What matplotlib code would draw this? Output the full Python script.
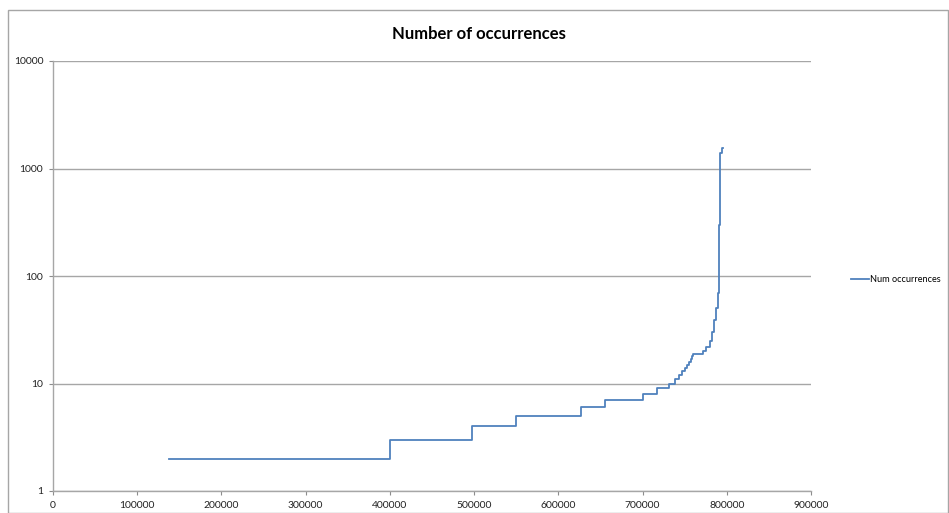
import matplotlib
matplotlib.use("Agg")
import matplotlib.pyplot as plt
from matplotlib.patches import Rectangle
from matplotlib.ticker import FixedLocator, NullLocator

# rank position where each count level starts (sorted occurrence counts)
rank_start = [137700, 400000, 498000, 550000, 627000, 655500, 700000, 717000,
              731000, 738500, 743000, 747000, 750500, 753000, 755500, 757500,
              759000, 760000, 771800, 775000, 779500, 782500, 785000, 787000,
              789000, 790300, 790800, 791500, 792000, 794400, 795000]
counts = [2, 3, 4, 5, 6, 7, 8, 9,
          10, 11, 12, 13, 14, 15, 16, 17,
          18, 19, 20, 22, 25, 30, 39, 50,
          70, 100, 300, 1000, 1400, 1550, 1550]

x_ticks = [0, 100000, 200000, 300000, 400000, 500000, 600000, 700000, 800000, 900000]
y_ticks = [1, 10, 100, 1000, 10000]

plt.rcParams['font.family'] = ['Lato', 'DejaVu Sans']

fig = plt.figure(figsize=(9.49, 5.13), dpi=100)
ax = fig.add_axes([53 / 949, 1 - 491 / 513, (811 - 53) / 949, (491 - 61) / 513])

ax.step(rank_start, counts, where='post', color='#4F81BD', linewidth=1.3,
        label='Num occurrences')

ax.set_yscale('log')
ax.set_xlim(0, 900000)
ax.set_ylim(1, 10000)
ax.xaxis.set_major_locator(FixedLocator(x_ticks))
ax.yaxis.set_major_locator(FixedLocator(y_ticks))
ax.yaxis.set_minor_locator(NullLocator())
ax.set_xticklabels([str(v) for v in x_ticks])
ax.set_yticklabels([str(v) for v in y_ticks])
ax.tick_params(axis='both', labelsize=7.5, colors='#8c8c8c', labelcolor='#222222',
               length=3, width=0.8, direction='out', pad=4)
ax.grid(axis='y', color='#a6a6a6', linewidth=1.0)
ax.set_axisbelow(True)
for side in ['top', 'right']:
    ax.spines[side].set_visible(False)
for side in ['left', 'bottom']:
    ax.spines[side].set_color('#a6a6a6')
    ax.spines[side].set_linewidth(1.0)

fig.text(479 / 949, 1 - 34 / 513, 'Number of occurrences', ha='center', va='center',
         fontsize=12, fontweight='bold')

fig.legend(loc='center left', bbox_to_anchor=(843 / 949, 1 - 280 / 513), frameon=False,
           fontsize=6.6, handlelength=1.9, handletextpad=0.1)

fig.patches.append(Rectangle((8 / 949, 0), 940 / 949, 1 - 10 / 513, transform=fig.transFigure,
                             fill=False, edgecolor='#a6a6a6', linewidth=1.0))

fig.savefig('out.png', dpi=100)
